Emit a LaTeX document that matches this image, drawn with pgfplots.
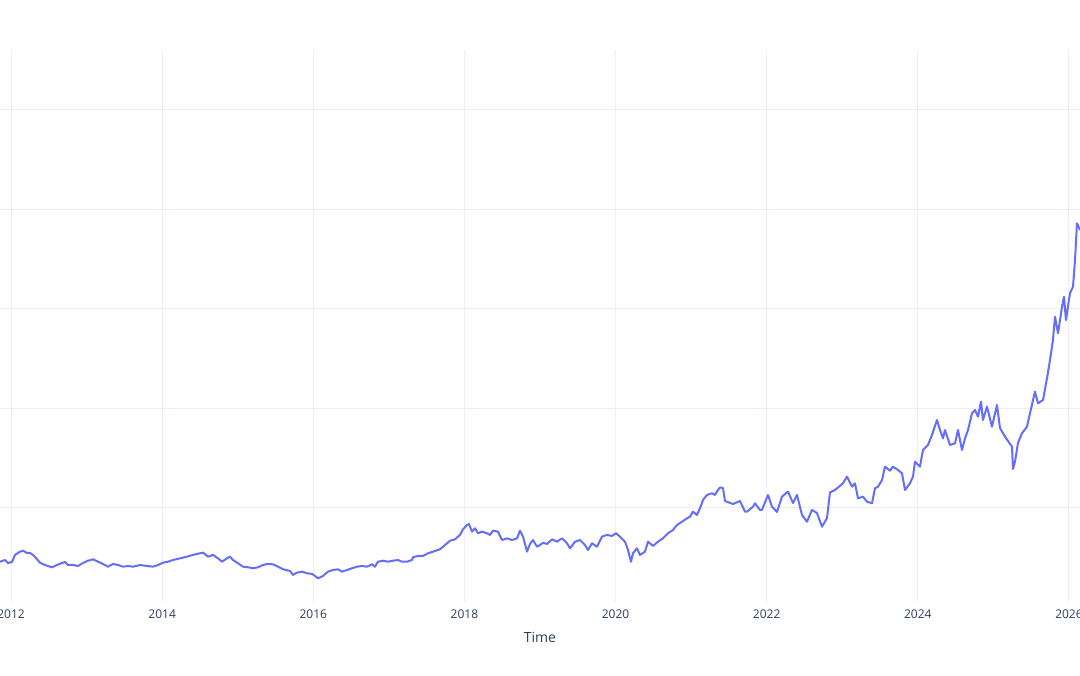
\documentclass[border=0pt]{standalone}
\usepackage{pgfplots}
\pgfplotsset{compat=1.18}
\usepackage{fontspec}
\setmainfont{Open Sans}
\definecolor{gridc}{HTML}{EBF0F8}
\definecolor{linec}{HTML}{636EFA}
\definecolor{textc}{HTML}{2A3F5F}
\begin{document}
\begin{tikzpicture}
\path[use as bounding box] (0,0) rectangle (540pt,337.5pt);
\begin{axis}[
 at={(0pt,36.5pt)}, anchor=south west,
 scale only axis, width=540pt, height=276pt,
 xmin=2011.854, xmax=2026.146, ymin=5.5, ymax=560.3,
 axis line style={draw=none},
 xtick={2012,2014,2016,2018,2020,2022,2024,2026},
 xticklabels={2012,2014,2016,2018,2020,2022,2024,2026},
 ytick={100,200,300,400,500}, yticklabels={},
 major tick length=0pt,
 grid=major, grid style={gridc, line width=0.5pt},
 xticklabel style={font=\fontsize{6}{7}\selectfont, text=textc, anchor=center, yshift=-6pt},
 xlabel={Time},
 xlabel style={font=\fontsize{7}{8}\selectfont, text=textc, at={(axis description cs:0.5,0)}, anchor=center, yshift=-17.5pt},
 clip=true,
]
\addplot[linec, line width=1pt, line join=round] table {
2011.854 46.0
2011.920 47.7
2011.960 44.7
2012.013 45.7
2012.052 52.8
2012.119 56.1
2012.158 57.1
2012.211 54.8
2012.251 54.8
2012.291 52.8
2012.317 50.8
2012.383 45.0
2012.449 42.7
2012.542 40.4
2012.608 42.7
2012.674 44.7
2012.714 45.7
2012.754 42.7
2012.820 42.7
2012.886 41.7
2012.952 44.7
2013.018 47.0
2013.085 48.4
2013.151 46.0
2013.217 43.7
2013.283 41.0
2013.349 43.7
2013.415 42.7
2013.482 41.0
2013.548 41.7
2013.614 41.0
2013.707 42.7
2013.799 41.7
2013.879 41.0
2013.945 42.7
2014.011 45.0
2014.077 46.0
2014.143 47.7
2014.236 49.4
2014.329 51.1
2014.408 52.8
2014.501 54.5
2014.540 55.1
2014.607 51.1
2014.673 52.8
2014.739 49.4
2014.792 46.0
2014.858 49.4
2014.898 51.1
2014.937 47.7
2015.004 44.4
2015.070 41.0
2015.136 40.4
2015.202 39.4
2015.268 40.4
2015.334 42.7
2015.387 43.7
2015.467 43.4
2015.533 41.0
2015.599 38.4
2015.692 36.7
2015.731 32.7
2015.784 35.0
2015.850 36.0
2015.917 34.4
2015.983 33.7
2016.022 31.7
2016.062 29.3
2016.128 31.7
2016.194 36.0
2016.261 37.7
2016.327 38.4
2016.380 36.0
2016.446 37.7
2016.512 39.4
2016.578 41.0
2016.644 41.7
2016.711 41.0
2016.777 43.4
2016.816 41.0
2016.856 46.0
2016.922 47.0
2016.988 46.0
2017.055 47.0
2017.121 47.7
2017.174 46.0
2017.240 46.0
2017.306 47.7
2017.319 50.5
2017.385 51.8
2017.452 51.8
2017.518 54.5
2017.584 56.1
2017.677 58.5
2017.743 62.8
2017.809 67.1
2017.875 68.5
2017.941 72.9
2017.981 78.6
2018.034 82.9
2018.060 83.9
2018.100 76.2
2018.140 79.6
2018.179 74.6
2018.232 76.2
2018.299 74.6
2018.338 72.9
2018.378 77.2
2018.444 76.2
2018.497 67.8
2018.563 69.5
2018.629 67.8
2018.696 69.5
2018.735 77.2
2018.775 71.2
2018.828 56.1
2018.868 63.8
2018.907 67.8
2018.960 61.1
2019.000 62.8
2019.040 65.1
2019.092 63.8
2019.159 68.5
2019.225 66.1
2019.291 69.5
2019.357 64.5
2019.397 59.5
2019.463 66.1
2019.529 67.8
2019.595 62.8
2019.635 57.8
2019.688 64.5
2019.754 61.1
2019.820 71.2
2019.886 72.9
2019.953 71.9
2020.006 74.6
2020.058 71.2
2020.125 66.1
2020.164 57.8
2020.204 46.0
2020.230 54.5
2020.283 59.5
2020.323 52.8
2020.389 56.1
2020.429 66.1
2020.495 61.8
2020.561 66.1
2020.627 69.5
2020.694 74.6
2020.760 77.9
2020.813 82.9
2020.879 86.2
2020.945 89.6
2020.985 91.3
2021.024 96.3
2021.077 93.0
2021.117 99.7
2021.157 108.0
2021.210 113.1
2021.276 114.8
2021.316 113.1
2021.355 118.1
2021.382 120.6
2021.421 120.1
2021.448 107.0
2021.554 104.0
2021.646 107.0
2021.713 96.3
2021.739 96.3
2021.818 101.3
2021.845 104.7
2021.911 98.0
2021.937 98.0
2022.017 113.1
2022.070 101.3
2022.136 96.0
2022.202 111.4
2022.282 116.4
2022.348 105.0
2022.401 113.1
2022.467 93.0
2022.533 86.2
2022.599 98.0
2022.665 95.0
2022.732 81.2
2022.798 89.9
2022.837 115.6
2022.904 118.1
2023.009 124.8
2023.062 131.5
2023.129 121.4
2023.168 124.8
2023.208 109.7
2023.274 111.4
2023.327 106.3
2023.393 104.7
2023.433 119.8
2023.473 121.4
2023.526 128.1
2023.565 141.5
2023.631 137.5
2023.671 141.5
2023.737 138.2
2023.790 134.9
2023.830 118.1
2023.896 124.8
2023.936 131.5
2023.962 146.5
2024.028 141.5
2024.068 158.3
2024.134 163.3
2024.187 173.4
2024.253 188.4
2024.293 178.4
2024.333 170.0
2024.359 178.4
2024.425 163.3
2024.492 165.0
2024.531 178.4
2024.584 158.3
2024.624 170.0
2024.664 178.4
2024.717 195.2
2024.756 198.5
2024.796 191.8
2024.836 206.8
2024.862 188.4
2024.915 201.8
2024.981 181.7
2025.047 203.5
2025.087 180.4
2025.153 171.7
2025.193 167.3
2025.246 161.6
2025.259 139.2
2025.286 146.7
2025.325 165.3
2025.378 175.1
2025.444 181.7
2025.484 195.2
2025.550 216.9
2025.590 205.2
2025.656 208.5
2025.709 230.3
2025.749 248.7
2025.788 268.8
2025.815 292.3
2025.855 275.6
2025.908 302.3
2025.934 312.4
2025.960 288.9
2026.013 315.8
2026.053 322.4
2026.080 349.2
2026.106 386.1
2026.146 379.4
};
\end{axis}
\end{tikzpicture}
\end{document}
